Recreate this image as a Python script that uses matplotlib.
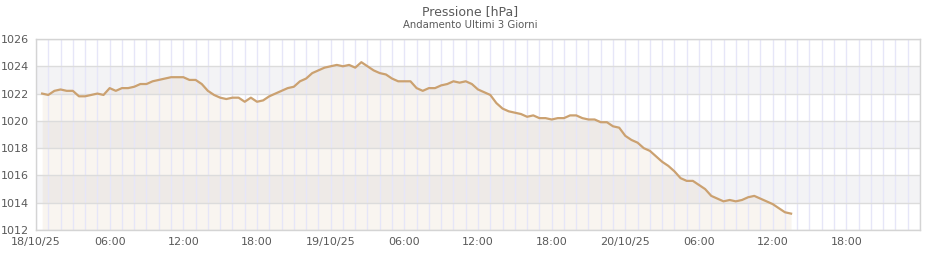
import pandas as pd
import numpy as np
import matplotlib
matplotlib.use('Agg')
import matplotlib.pyplot as plt
import matplotlib.dates as mdates

# pressure readings every 30 minutes, starting 18/10/25 00:30
start_time = '2025-10-18 00:30'
pressure = [
    1022.0, 1021.9, 1022.2, 1022.3, 1022.2, 1022.2, 1021.8, 1021.8, 1021.9, 1022.0,
    1021.9, 1022.4, 1022.2, 1022.4, 1022.4, 1022.5, 1022.7, 1022.7, 1022.9, 1023.0,
    1023.1, 1023.2, 1023.2, 1023.2, 1023.0, 1023.0, 1022.7, 1022.2, 1021.9, 1021.7,
    1021.6, 1021.7, 1021.7, 1021.4, 1021.7, 1021.4, 1021.5, 1021.8, 1022.0, 1022.2,
    1022.4, 1022.5, 1022.9, 1023.1, 1023.5, 1023.7, 1023.9, 1024.0, 1024.1, 1024.0,
    1024.1, 1023.9, 1024.3, 1024.0, 1023.7, 1023.5, 1023.4, 1023.1, 1022.9, 1022.9,
    1022.9, 1022.4, 1022.2, 1022.4, 1022.4, 1022.6, 1022.7, 1022.9, 1022.8, 1022.9,
    1022.7, 1022.3, 1022.1, 1021.9, 1021.3, 1020.9, 1020.7, 1020.6, 1020.5, 1020.3,
    1020.4, 1020.2, 1020.2, 1020.1, 1020.2, 1020.2, 1020.4, 1020.4, 1020.2, 1020.1,
    1020.1, 1019.9, 1019.9, 1019.6, 1019.5, 1018.9, 1018.6, 1018.4, 1018.0, 1017.8,
    1017.4, 1017.0, 1016.7, 1016.3, 1015.8, 1015.6, 1015.6, 1015.3, 1015.0, 1014.5,
    1014.3, 1014.1, 1014.2, 1014.1, 1014.2, 1014.4, 1014.5, 1014.3, 1014.1, 1013.9,
    1013.6, 1013.3, 1013.2,
]
y_ticks = [1012, 1014, 1016, 1018, 1020, 1022, 1024, 1026]
x_start = '2025-10-18 00:00'
x_end = '2025-10-21 00:00'
x_tick_end = '2025-10-20 18:00'

times = pd.date_range(start_time, periods=len(pressure), freq='30min')

line_color = '#cba170'
text_color = '#5a5a5a'

fig = plt.figure(figsize=(9.4, 2.6), dpi=100)
ax = fig.add_axes([36 / 940, 30 / 260, 884 / 940, 191 / 260])

# alternating horizontal bands
for lo, hi in zip(y_ticks[1::2], y_ticks[2::2]):
    ax.axhspan(lo, hi, color='#f3f3f5', zorder=0.5, lw=0)

ax.fill_between(times, y_ticks[0], pressure, color=line_color, alpha=0.1, lw=0, zorder=1)
ax.plot(times, pressure, color=line_color, lw=1.6, zorder=3)

ax.set_ylim(y_ticks[0], y_ticks[-1])
ax.set_yticks(y_ticks)
ax.set_xlim(pd.Timestamp(x_start), pd.Timestamp(x_end))

major = pd.date_range(x_start, x_tick_end, freq='6h')
ax.set_xticks(major)
ax.set_xticklabels([t.strftime('%d/%m/%y') if t.hour == 0 else t.strftime('%H:%M') for t in major])
ax.xaxis.set_minor_locator(mdates.HourLocator())

ax.set_axisbelow('line')
ax.yaxis.grid(True, color='#dcdcdc', lw=1.0)
ax.xaxis.grid(True, which='both', color='#e6e6f8', lw=1.0)

ax.tick_params(axis='both', which='both', length=0, labelsize=8, colors=text_color)
ax.tick_params(axis='y', pad=5)
ax.tick_params(axis='x', pad=5)
for s in ax.spines.values():
    s.set_color('#d4d4d4')
    s.set_linewidth(1.0)

fig.text(0.5, 1 - 11.5 / 260, 'Pressione [hPa]', ha='center', va='center', fontsize=9, color=text_color)
fig.text(0.5, 1 - 25 / 260, 'Andamento Ultimi 3 Giorni', ha='center', va='center', fontsize=7.3, color=text_color)

fig.savefig('out.png', dpi=100)
